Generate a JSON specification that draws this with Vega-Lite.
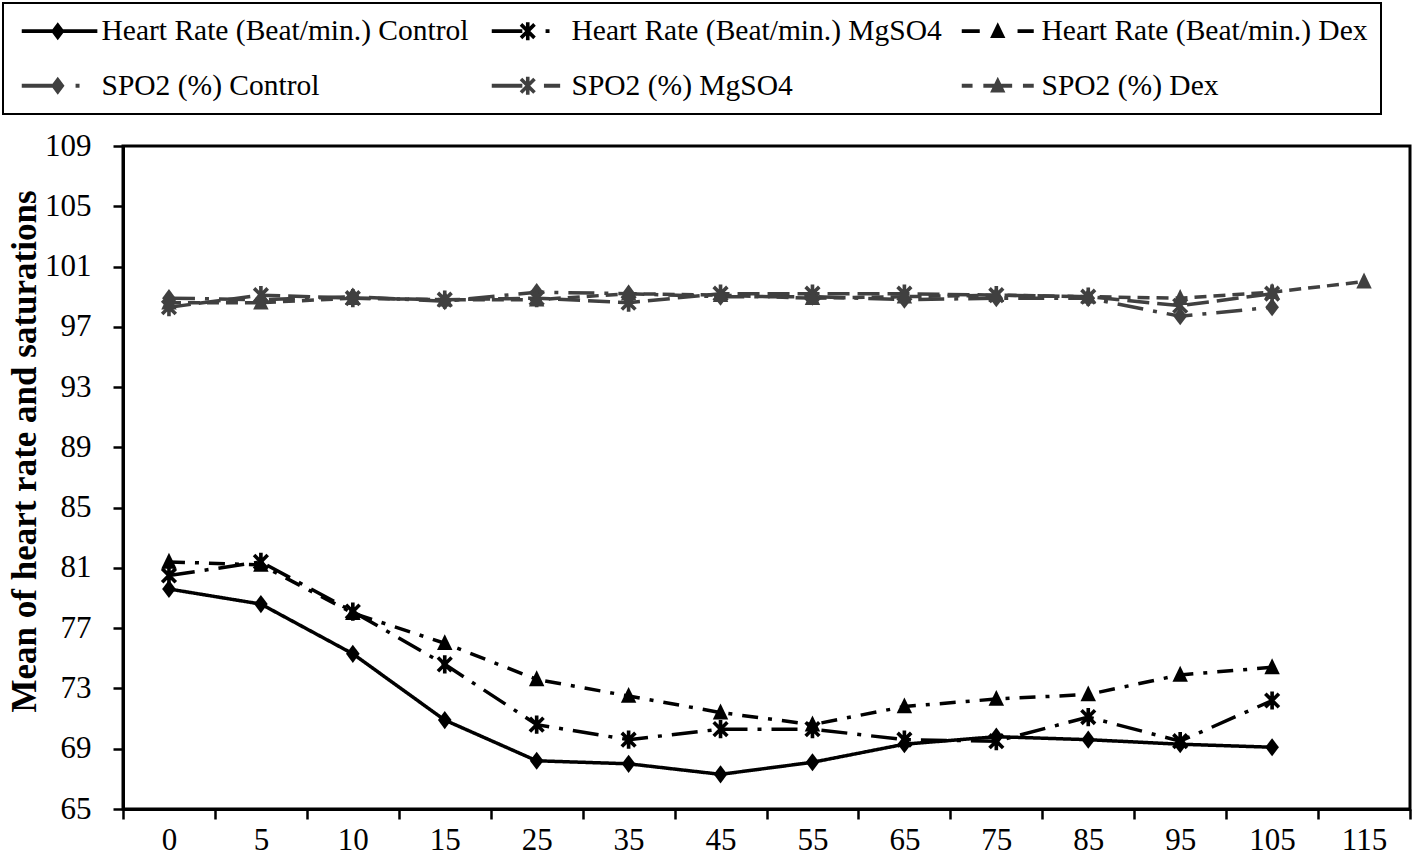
{
  "$schema": "https://vega.github.io/schema/vega-lite/v6.json",
  "width": 1287,
  "height": 663,
  "autosize": {"type": "none"},
  "padding": {"left": 123, "top": 146, "right": 8, "bottom": 54},
  "background": "white",
  "data": {"values": [
    {"t": "0", "s": "Heart Rate (Beat/min.) Control", "v": 79.6},
    {"t": "5", "s": "Heart Rate (Beat/min.) Control", "v": 78.6},
    {"t": "10", "s": "Heart Rate (Beat/min.) Control", "v": 75.3},
    {"t": "15", "s": "Heart Rate (Beat/min.) Control", "v": 70.9},
    {"t": "25", "s": "Heart Rate (Beat/min.) Control", "v": 68.2},
    {"t": "35", "s": "Heart Rate (Beat/min.) Control", "v": 68.0},
    {"t": "45", "s": "Heart Rate (Beat/min.) Control", "v": 67.3},
    {"t": "55", "s": "Heart Rate (Beat/min.) Control", "v": 68.1},
    {"t": "65", "s": "Heart Rate (Beat/min.) Control", "v": 69.3},
    {"t": "75", "s": "Heart Rate (Beat/min.) Control", "v": 69.8},
    {"t": "85", "s": "Heart Rate (Beat/min.) Control", "v": 69.6},
    {"t": "95", "s": "Heart Rate (Beat/min.) Control", "v": 69.3},
    {"t": "105", "s": "Heart Rate (Beat/min.) Control", "v": 69.1},
    {"t": "0", "s": "Heart Rate (Beat/min.) MgSO4", "v": 80.5},
    {"t": "5", "s": "Heart Rate (Beat/min.) MgSO4", "v": 81.4},
    {"t": "10", "s": "Heart Rate (Beat/min.) MgSO4", "v": 78.1},
    {"t": "15", "s": "Heart Rate (Beat/min.) MgSO4", "v": 74.6},
    {"t": "25", "s": "Heart Rate (Beat/min.) MgSO4", "v": 70.6},
    {"t": "35", "s": "Heart Rate (Beat/min.) MgSO4", "v": 69.6},
    {"t": "45", "s": "Heart Rate (Beat/min.) MgSO4", "v": 70.3},
    {"t": "55", "s": "Heart Rate (Beat/min.) MgSO4", "v": 70.3},
    {"t": "65", "s": "Heart Rate (Beat/min.) MgSO4", "v": 69.6},
    {"t": "75", "s": "Heart Rate (Beat/min.) MgSO4", "v": 69.5},
    {"t": "85", "s": "Heart Rate (Beat/min.) MgSO4", "v": 71.1},
    {"t": "95", "s": "Heart Rate (Beat/min.) MgSO4", "v": 69.5},
    {"t": "105", "s": "Heart Rate (Beat/min.) MgSO4", "v": 72.2},
    {"t": "0", "s": "Heart Rate (Beat/min.) Dex", "v": 81.4},
    {"t": "5", "s": "Heart Rate (Beat/min.) Dex", "v": 81.2},
    {"t": "10", "s": "Heart Rate (Beat/min.) Dex", "v": 78.0},
    {"t": "15", "s": "Heart Rate (Beat/min.) Dex", "v": 76.0},
    {"t": "25", "s": "Heart Rate (Beat/min.) Dex", "v": 73.6},
    {"t": "35", "s": "Heart Rate (Beat/min.) Dex", "v": 72.5},
    {"t": "45", "s": "Heart Rate (Beat/min.) Dex", "v": 71.4},
    {"t": "55", "s": "Heart Rate (Beat/min.) Dex", "v": 70.6},
    {"t": "65", "s": "Heart Rate (Beat/min.) Dex", "v": 71.8},
    {"t": "75", "s": "Heart Rate (Beat/min.) Dex", "v": 72.3},
    {"t": "85", "s": "Heart Rate (Beat/min.) Dex", "v": 72.6},
    {"t": "95", "s": "Heart Rate (Beat/min.) Dex", "v": 73.9},
    {"t": "105", "s": "Heart Rate (Beat/min.) Dex", "v": 74.4},
    {"t": "0", "s": "SPO2 (%) Control", "v": 98.9},
    {"t": "5", "s": "SPO2 (%) Control", "v": 98.8},
    {"t": "10", "s": "SPO2 (%) Control", "v": 99.0},
    {"t": "15", "s": "SPO2 (%) Control", "v": 98.7},
    {"t": "25", "s": "SPO2 (%) Control", "v": 99.3},
    {"t": "35", "s": "SPO2 (%) Control", "v": 99.2},
    {"t": "45", "s": "SPO2 (%) Control", "v": 99.0},
    {"t": "55", "s": "SPO2 (%) Control", "v": 99.0},
    {"t": "65", "s": "SPO2 (%) Control", "v": 98.8},
    {"t": "75", "s": "SPO2 (%) Control", "v": 98.9},
    {"t": "85", "s": "SPO2 (%) Control", "v": 98.9},
    {"t": "95", "s": "SPO2 (%) Control", "v": 97.7},
    {"t": "105", "s": "SPO2 (%) Control", "v": 98.3},
    {"t": "0", "s": "SPO2 (%) MgSO4", "v": 98.3},
    {"t": "5", "s": "SPO2 (%) MgSO4", "v": 99.1},
    {"t": "10", "s": "SPO2 (%) MgSO4", "v": 98.9},
    {"t": "15", "s": "SPO2 (%) MgSO4", "v": 98.8},
    {"t": "25", "s": "SPO2 (%) MgSO4", "v": 98.9},
    {"t": "35", "s": "SPO2 (%) MgSO4", "v": 98.6},
    {"t": "45", "s": "SPO2 (%) MgSO4", "v": 99.2},
    {"t": "55", "s": "SPO2 (%) MgSO4", "v": 99.2},
    {"t": "65", "s": "SPO2 (%) MgSO4", "v": 99.2},
    {"t": "75", "s": "SPO2 (%) MgSO4", "v": 99.1},
    {"t": "85", "s": "SPO2 (%) MgSO4", "v": 99.0},
    {"t": "95", "s": "SPO2 (%) MgSO4", "v": 98.4},
    {"t": "105", "s": "SPO2 (%) MgSO4", "v": 99.2},
    {"t": "0", "s": "SPO2 (%) Dex", "v": 98.6},
    {"t": "5", "s": "SPO2 (%) Dex", "v": 98.6},
    {"t": "10", "s": "SPO2 (%) Dex", "v": 98.9},
    {"t": "15", "s": "SPO2 (%) Dex", "v": 98.8},
    {"t": "25", "s": "SPO2 (%) Dex", "v": 98.8},
    {"t": "35", "s": "SPO2 (%) Dex", "v": 99.2},
    {"t": "45", "s": "SPO2 (%) Dex", "v": 99.1},
    {"t": "55", "s": "SPO2 (%) Dex", "v": 98.9},
    {"t": "65", "s": "SPO2 (%) Dex", "v": 99.0},
    {"t": "75", "s": "SPO2 (%) Dex", "v": 99.1},
    {"t": "85", "s": "SPO2 (%) Dex", "v": 99.0},
    {"t": "95", "s": "SPO2 (%) Dex", "v": 98.9},
    {"t": "105", "s": "SPO2 (%) Dex", "v": 99.3},
    {"t": "115", "s": "SPO2 (%) Dex", "v": 100.0}
  ]},
  "encoding": {
    "x": {
      "field": "t", "type": "ordinal",
      "sort": ["0","5","10","15","25","35","45","55","65","75","85","95","105","115"],
      "scale": {"type": "band", "paddingInner": 0, "paddingOuter": 0,
        "domain": ["0","5","10","15","25","35","45","55","65","75","85","95","105","115"]},
      "axis": {"title": null, "labelAngle": 0, "tickBand": "extent", "grid": false,
        "domainColor": "black", "domainWidth": 3, "tickColor": "black", "tickWidth": 2.5,
        "tickSize": 10, "labelFont": "Liberation Serif", "labelFontSize": 31,
        "labelColor": "black", "labelPadding": 6}
    },
    "y": {
      "field": "v", "type": "quantitative",
      "scale": {"domain": [65, 109], "nice": false, "zero": false},
      "axis": {"values": [65,69,73,77,81,85,89,93,97,101,105,109], "grid": false,
        "title": "Mean of heart rate and saturations", "titleFont": "Liberation Serif",
        "titleFontSize": 35, "titleFontWeight": "bold", "titleColor": "black", "titlePadding": 2,
        "titleY": 305,
        "domainColor": "black", "domainWidth": 3, "tickColor": "black", "tickWidth": 2.5,
        "tickSize": 10, "labelFont": "Liberation Serif", "labelFontSize": 31,
        "labelColor": "black", "labelPadding": 22}
    }
  },
  "layer": [
    {
      "mark": {"type": "line", "strokeWidth": 3.5},
      "encoding": {
        "color": {"field": "s", "type": "nominal", "legend": null,
          "scale": {"domain": ["Heart Rate (Beat/min.) Control","Heart Rate (Beat/min.) MgSO4","Heart Rate (Beat/min.) Dex","SPO2 (%) Control","SPO2 (%) MgSO4","SPO2 (%) Dex"],
            "range": ["#000000","#000000","#000000","#404040","#404040","#404040"]}},
        "strokeDash": {"field": "s", "type": "nominal", "legend": null,
          "scale": {"domain": ["Heart Rate (Beat/min.) Control","Heart Rate (Beat/min.) MgSO4","Heart Rate (Beat/min.) Dex","SPO2 (%) Control","SPO2 (%) MgSO4","SPO2 (%) Dex"],
            "range": [[1,0],[26,10,4,10],[16,10,4,10],[26,10,4,10],[22,8],[12,7]]}}
      }
    },
    {
      "mark": {"type": "point", "filled": true, "opacity": 1, "size": 330, "strokeWidth": 0},
      "encoding": {
        "color": {"field": "s", "type": "nominal", "legend": null},
        "shape": {"field": "s", "type": "nominal", "legend": null,
          "scale": {"domain": ["Heart Rate (Beat/min.) Control","Heart Rate (Beat/min.) MgSO4","Heart Rate (Beat/min.) Dex","SPO2 (%) Control","SPO2 (%) MgSO4","SPO2 (%) Dex"],
            "range": [
              "M0,-1L0.75,0L0,1L-0.75,0Z",
              "M-0.2,-1H0.2V1H-0.2Z M-0.609,-0.891L0.891,0.609L0.609,0.891L-0.891,-0.609Z M0.609,-0.891L0.891,-0.609L-0.609,0.891L-0.891,0.609Z",
              "M0,-1L0.85,0.75L-0.85,0.75Z",
              "M0,-1L0.75,0L0,1L-0.75,0Z",
              "M-0.2,-1H0.2V1H-0.2Z M-0.609,-0.891L0.891,0.609L0.609,0.891L-0.891,-0.609Z M0.609,-0.891L0.891,-0.609L-0.609,0.891L-0.891,0.609Z",
              "M0,-1L0.85,0.75L-0.85,0.75Z"
            ]}}
      }
    },
    {
      "transform": [{"filter": "false"}],
      "mark": {"type": "point", "filled": true, "strokeWidth": 0},
      "encoding": {
        "fill": {"field": "s", "type": "nominal",
          "scale": {"domain": ["Heart Rate (Beat/min.) Control","Heart Rate (Beat/min.) MgSO4","Heart Rate (Beat/min.) Dex","SPO2 (%) Control","SPO2 (%) MgSO4","SPO2 (%) Dex"],
            "range": ["#000000","#000000","#000000","#404040","#404040","#404040"]},
          "legend": {"title": null, "orient": "none", "legendX": -120, "legendY": -143, "columns": 3,
            "direction": "horizontal",
            "gridAlign": "all", "columnPadding": 14, "rowPadding": 24, "padding": 13,
            "strokeColor": "black", "labelFont": "Liberation Serif", "labelFontSize": 29.5,
            "labelColor": "black", "labelLimit": 600, "labelOffset": 56, "symbolSize": 324,
            "symbolStrokeWidth": 0, "symbolOpacity": 1}},
        "shape": {"field": "s", "type": "nominal",
          "scale": {"domain": ["Heart Rate (Beat/min.) Control","Heart Rate (Beat/min.) MgSO4","Heart Rate (Beat/min.) Dex","SPO2 (%) Control","SPO2 (%) MgSO4","SPO2 (%) Dex"],
            "range": [
              "M-1,-0.22H7.4V0.22H-1Z M3,-1L3.75,0L3,1L2.25,0Z",
              "M-1,-0.22H2.4V0.22H-1Z M2.8,-1H3.2V1H2.8Z M2.391,-0.891L3.891,0.609L3.609,0.891L2.109,-0.609Z M3.609,-0.891L3.891,-0.609L2.391,0.891L2.109,0.609Z M4.98,-0.22H5.42V0.22H4.98Z",
              "M-1,-0.22H1V0.22H-1Z M3,-1L3.85,0.75L2.15,0.75Z M5.2,-0.22H7V0.22H5.2Z",
              "M-1,-0.22H2.4V0.22H-1Z M3,-1L3.75,0L3,1L2.25,0Z M4.98,-0.22H5.42V0.22H4.98Z",
              "M-1,-0.22H2.4V0.22H-1Z M2.8,-1H3.2V1H2.8Z M2.391,-0.891L3.891,0.609L3.609,0.891L2.109,-0.609Z M3.609,-0.891L3.891,-0.609L2.391,0.891L2.109,0.609Z M4.8,-0.22H6.6V0.22H4.8Z",
              "M-1,-0.22H0.2V0.22H-1Z M1.4,-0.22H4.6V0.22H1.4Z M3,-1L3.85,0.75L2.15,0.75Z M5.8,-0.22H7V0.22H5.8Z"
            ]},
          "legend": {"title": null, "orient": "none", "legendX": -120, "legendY": -143, "columns": 3,
            "direction": "horizontal",
            "gridAlign": "all", "columnPadding": 14, "rowPadding": 24, "padding": 13,
            "strokeColor": "black", "labelFont": "Liberation Serif", "labelFontSize": 29.5,
            "labelColor": "black", "labelLimit": 600, "labelOffset": 56, "symbolSize": 324,
            "symbolStrokeWidth": 0, "symbolOpacity": 1}}
      }
    }
  ],
  "resolve": {
    "scale": {"shape": "independent", "fill": "independent"},
    "legend": {"shape": "independent", "fill": "independent"}
  },
  "config": {
    "view": {"stroke": "black", "strokeWidth": 3},
    "legend": {"strokeWidth": 2},
    "font": "Liberation Serif"
  }
}
